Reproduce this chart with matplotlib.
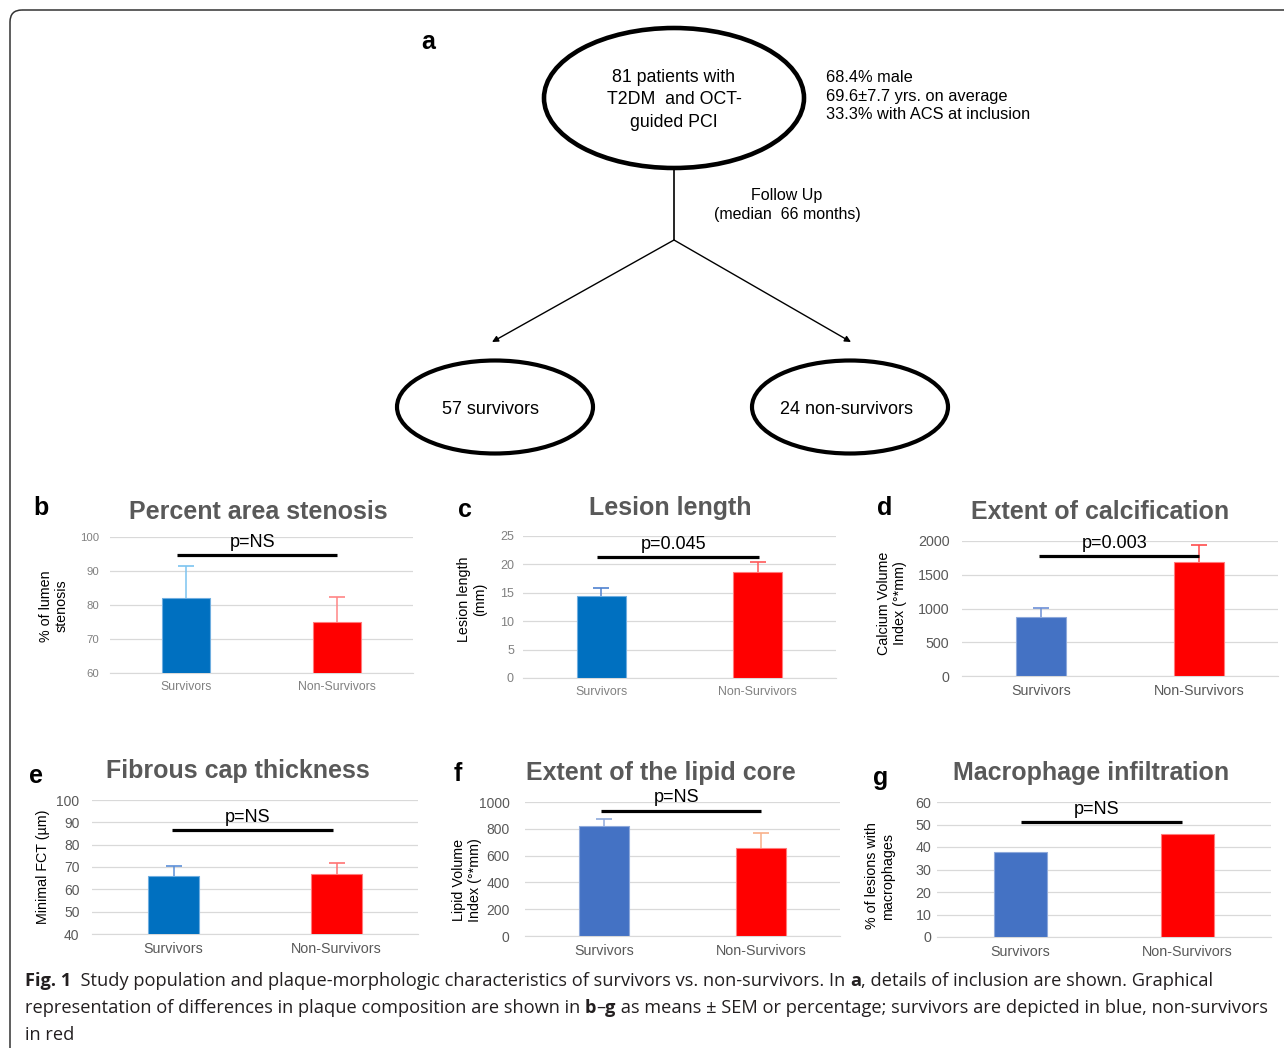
import matplotlib
matplotlib.use('Agg')
import matplotlib.pyplot as plt
from matplotlib.patches import Ellipse, FancyBboxPatch

plt.rcParams['font.family'] = ['Liberation Sans', 'DejaVu Sans']

W, H = 1284, 1048

groups = ['Survivors', 'Non-Survivors']

# values (mean, upper SEM)
stenosis_mean = [82.0, 75.0]
stenosis_sem = [9.5, 7.5]
lesion_mean = [14.4, 18.6]
lesion_sem = [1.4, 1.9]
calcium_mean = [874, 1689]
calcium_sem = [133, 251]
fct_mean = [66.0, 66.7]
fct_sem = [4.3, 5.1]
lipid_mean = [824, 660]
lipid_sem = [49, 112]
macro_pct = [37.8, 45.6]

p_labels = ['p=NS', 'p=0.045', 'p=0.003', 'p=NS', 'p=NS', 'p=NS']
bracket_levels = [94.7, 21.3, 1778, 86.4, 936, 51.1]

fig = plt.figure(figsize=(W / 100, H / 100), dpi=100)
bg = fig.add_axes([0, 0, 1, 1])
bg.set_xlim(0, W)
bg.set_ylim(H, 0)
bg.axis('off')


def px_axes(x0, y0, x1, y1):
  return fig.add_axes([x0 / W, 1 - y1 / H, (x1 - x0) / W, (y1 - y0) / H])


# frame
bg.add_patch(FancyBboxPatch((10, 10), 1320, 1080, boxstyle='round,pad=0,rounding_size=12',
                            fill=False, lw=1.1, ec='#333333'))

# ---- panel a: flowchart ----
bg.text(428, 42, 'a', fontsize=18, fontweight='bold', ha='center', va='center')
bg.add_patch(Ellipse((674, 98), 260, 140, fill=False, lw=3.3, ec='black'))
bg.text(674, 100, '81 patients with\nT2DM  and OCT-\nguided PCI', fontsize=12.8,
        ha='center', va='center', linespacing=1.4)
bg.text(826, 96, '68.4% male\n69.6±7.7 yrs. on average\n33.3% with ACS at inclusion',
        fontsize=11.8, ha='left', va='center', linespacing=1.3)
bg.plot([674, 674], [169, 240], color='black', lw=1.2)
bg.text(787, 205, 'Follow Up\n(median  66 months)', fontsize=11.5, ha='center', va='center',
        linespacing=1.4)
for tx in (492, 851):
  bg.annotate('', xy=(tx, 342), xytext=(674, 240),
              arrowprops=dict(arrowstyle='-|>', lw=1.0, color='black', mutation_scale=9,
                              shrinkA=0, shrinkB=0))
bg.add_patch(Ellipse((495, 407), 196, 93, fill=False, lw=3.0, ec='black'))
bg.add_patch(Ellipse((850, 407), 196, 93, fill=False, lw=3.0, ec='black'))
bg.text(490, 409, '57 survivors', fontsize=13, ha='center', va='center')
bg.text(847, 409, '24 non-survivors', fontsize=13, ha='center', va='center')

# ---- panels b-g ----
panels = [
  dict(letter='b', title='Percent area stenosis', ylabel='% of lumen\nstenosis',
       vals=stenosis_mean, err=stenosis_sem, ylim=(60, 100), step=10,
       box=(110, 537, 413, 673), colors=['#0070C0', '#FF0000'], ecolors=['#7CC3F0', '#FF8585'],
       bx=(-0.06, 1.0), letter_xy=(41, 508), title_xy=(258, 512), ylab_xy=(54, 606),
       tcol='#808080', ysize=8.2, xsize=8.8, ypad=8, xpad=6),
  dict(letter='c', title='Lesion length', ylabel='Lesion length\n(mm)',
       vals=lesion_mean, err=lesion_sem, ylim=(0, 25), step=5,
       box=(523, 536, 836, 678), colors=['#0070C0', '#FF0000'], ecolors=['#4F81D0', '#FF5A5A'],
       bx=(-0.03, 1.01), letter_xy=(465, 510), title_xy=(670, 508), ylab_xy=(472, 599),
       tcol='#808080', ysize=9, xsize=8.9, ypad=6.5, xpad=6),
  dict(letter='d', title='Extent of calcification', ylabel='Calcium Volume\nIndex (°*mm)',
       vals=calcium_mean, err=calcium_sem, ylim=(0, 2000), step=500,
       box=(962, 541, 1278, 676), colors=['#4472C4', '#FF0000'], ecolors=['#6C8FD6', '#FF4D4D'],
       bx=(-0.01, 1.0), letter_xy=(885, 508), title_xy=(1100, 512), ylab_xy=(892, 603),
       tcol='#595959', ysize=10.3, xsize=10.3, ypad=9, xpad=5.5),
  dict(letter='e', title='Fibrous cap thickness', ylabel='Minimal FCT (µm)',
       vals=fct_mean, err=fct_sem, ylim=(40, 100), step=10,
       box=(92, 800, 418, 934), colors=['#0070C0', '#FF0000'], ecolors=['#5B8FD8', '#FF7373'],
       bx=(-0.01, 0.98), letter_xy=(36, 776), title_xy=(238, 771), ylab_xy=(43, 867),
       tcol='#595959', ysize=10, xsize=10.3, ypad=9, xpad=6),
  dict(letter='f', title='Extent of the lipid core', ylabel='Lipid Volume\nIndex (°*mm)',
       vals=lipid_mean, err=lipid_sem, ylim=(0, 1000), step=200,
       box=(525, 802, 840, 936), colors=['#4472C4', '#FF0000'], ecolors=['#8FAADC', '#F8B08A'],
       bx=(-0.02, 1.0), letter_xy=(458, 774), title_xy=(661, 773), ylab_xy=(467, 880),
       tcol='#595959', ysize=10, xsize=10.3, ypad=11, xpad=6),
  dict(letter='g', title='Macrophage infiltration', ylabel='% of lesions with\nmacrophages',
       vals=macro_pct, err=None, ylim=(0, 60), step=10,
       box=(937, 802, 1271, 937), colors=['#4472C4', '#FF0000'], ecolors=None,
       bx=(0.0, 0.97), letter_xy=(881, 778), title_xy=(1091, 773), ylab_xy=(880, 876),
       tcol='#595959', ysize=10.3, xsize=10.3, ypad=4, xpad=6),
]

edge_cols = {'#0070C0': '#6FAEE0', '#4472C4': '#8EA9DB', '#FF0000': '#FF7C7C'}

for i, p in enumerate(panels):
  ax = px_axes(*p['box'])
  xs = list(range(len(groups)))
  ax.bar(xs, p['vals'], width=0.315, color=p['colors'],
         edgecolor=[edge_cols[c] for c in p['colors']], linewidth=0.8, zorder=3)
  if p['err'] is not None:
    # plus-only error bars, as in the original (cap only at the top)
    for x, v, e, c in zip(xs, p['vals'], p['err'], p['ecolors']):
      ax.vlines(x, v, v + e, color=c, lw=1.1, zorder=4)
      ax.plot(x, v + e, marker='_', ms=11, mew=1.2, color=c, zorder=4)
  lo, hi = p['ylim']
  ax.set_ylim(lo, hi)
  ax.set_xlim(-0.5, 1.5)
  ax.set_yticks(range(lo, hi + 1, p['step']))
  ax.set_xticks(xs)
  ax.set_xticklabels(groups)
  ax.yaxis.grid(True, color='#d9d9d9', lw=0.9)
  ax.set_axisbelow(True)
  for s in ('top', 'left', 'right'):
    ax.spines[s].set_visible(False)
  ax.spines['bottom'].set_color('#d9d9d9')
  ax.tick_params(axis='both', length=0, labelcolor=p['tcol'])
  ax.tick_params(axis='y', labelsize=p['ysize'], pad=p['ypad'])
  ax.tick_params(axis='x', labelsize=p['xsize'], pad=p['xpad'])
  ax.set_facecolor('none')

  # significance bracket
  x0, x1 = p['bx']
  yb = bracket_levels[i]
  ax.plot([x0, x1], [yb, yb], color='black', lw=2.3, solid_capstyle='butt', zorder=5,
          clip_on=False)
  ax.annotate(p_labels[i], xy=((x0 + x1) / 2 - 0.03, yb), xytext=(0, 3),
              textcoords='offset points', ha='center', va='bottom', fontsize=13,
              annotation_clip=False)

  bg.text(*p['letter_xy'], p['letter'], fontsize=18, fontweight='bold', ha='center', va='center')
  bg.text(*p['title_xy'], p['title'], fontsize=18, fontweight='bold', color='#595959',
          ha='center', va='center')
  bg.text(*p['ylab_xy'], p['ylabel'], fontsize=10.3, rotation=90, ha='center', va='center',
          multialignment='center', linespacing=1.15)

# ---- caption ----
cap_font = ['Open Sans', 'DejaVu Sans']
cap_lines = [
  [('Fig. 1', True), ('  Study population and plaque-morphologic characteristics of survivors vs. '
                      'non-survivors. In ', False), ('a', True),
   (', details of inclusion are shown. Graphical', False)],
  [('representation of differences in plaque composition are shown in ', False), ('b', True),
   ('–', False), ('g', True),
   (' as means ± SEM or percentage; survivors are depicted in blue, non-survivors', False)],
  [('in red', False)],
]
cap_baselines = [986, 1013, 1040]

renderer = fig.canvas.get_renderer()


def run_width(s, bold, size):
  t1 = bg.text(0, 0, s + 'x', fontsize=size, family=cap_font,
               fontweight='bold' if bold else 'normal')
  t2 = bg.text(0, 0, 'x', fontsize=size, family=cap_font,
               fontweight='bold' if bold else 'normal')
  w = t1.get_window_extent(renderer).width - t2.get_window_extent(renderer).width
  t1.remove()
  t2.remove()
  return w


ref_size = 12
line2_w = sum(run_width(s, b, ref_size) for s, b in cap_lines[1])
cap_size = ref_size * 1238 / line2_w

for runs, yb in zip(cap_lines, cap_baselines):
  x = 25
  for s, b in runs:
    bg.text(x, yb, s, fontsize=cap_size, family=cap_font, color='#231f20',
            fontweight='bold' if b else 'normal', ha='left', va='baseline')
    x += run_width(s, b, cap_size)

fig.savefig('out.png', dpi=100)
